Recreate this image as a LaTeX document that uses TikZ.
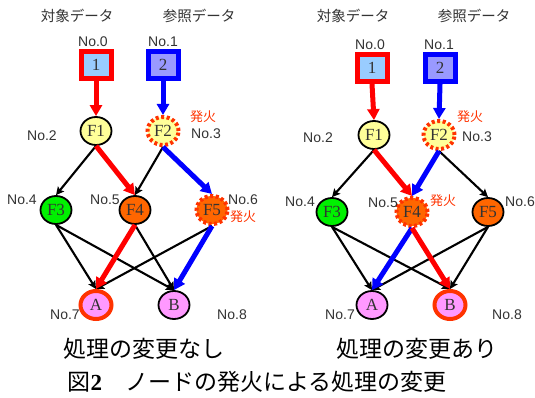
\documentclass[tikz,border=0pt]{standalone}
\usepackage{fontspec}
\usetikzlibrary{shapes.geometric,arrows.meta}
\setmainfont{Liberation Serif}
\newfontfamily\gothic{Noto Sans CJK JP}
\newfontfamily\arial{Liberation Sans}
\definecolor{firecol}{RGB}{255,51,0}
\definecolor{boxblue}{RGB}{153,204,255}
\definecolor{boxviolet}{RGB}{153,153,255}
\definecolor{fyellow}{RGB}{255,255,153}
\definecolor{fgreen}{RGB}{0,240,0}
\definecolor{forange}{RGB}{255,102,0}
\definecolor{fpink}{RGB}{255,153,255}
\definecolor{labelgray}{RGB}{51,51,51}
\tikzset{
  fn/.style={ellipse, draw=black, line width=1.8pt, minimum width=31pt,
    minimum height=28pt, inner sep=0pt, text=labelgray, font=\fontsize{17}{17}\selectfont},
  fired/.style={draw=firecol, dash pattern=on 3pt off 2.5pt, line width=4pt},
  outhot/.style={draw=firecol, line width=4pt},
  inbox/.style={rectangle, line width=5pt, minimum width=30pt,
    minimum height=27pt, inner sep=0pt, text=labelgray, font=\fontsize{17}{17}\selectfont},
  thinarr/.style={-{Stealth[length=8pt,width=8pt,inset=1.5pt]}, line width=2.1pt, black},
  redarr/.style={-{Triangle[length=11pt,width=12pt]}, line width=5pt, red},
  bluearr/.style={-{Triangle[length=11pt,width=12pt]}, line width=5pt, blue},
  nolbl/.style={font=\arial\fontsize{14}{14}\selectfont, text=labelgray, inner sep=0pt},
  firelbl/.style={font=\gothic\fontsize{13}{13}\selectfont, text=firecol, inner sep=0pt},
  headlbl/.style={font=\gothic\fontsize{14.5}{14.5}\selectfont, text=labelgray, inner sep=0pt},
  caplbl/.style={font=\gothic\fontsize{23}{23}\selectfont, text=black, inner sep=0pt}
}
\begin{document}
\begin{tikzpicture}[x=1pt,y=-1pt]
\path[use as bounding box, fill=white] (0,0) rectangle (535,398);

% ---------- left network: no change ----------
\node[headlbl] (lhA) at (77,16) {対象データ};
\node[headlbl] (lhB) at (199,16) {参照データ};
\node[nolbl] (ln0) at (93,42) {No.0};
\node[nolbl] (ln1) at (163,42) {No.1};
\node[inbox, draw=red, fill=boxblue] (lb1) at (96,65) {1};
\node[inbox, draw=blue, fill=boxviolet] (lb2) at (163,65) {2};
\node[fn, fill=fyellow] (lF1) at (96,131) {F1};
\node[fn, fill=fyellow, fired] (lF2) at (163,131) {F2};
\node[nolbl] (ln2) at (42,136) {No.2};
\node[firelbl] (lfire2) at (203,117) {発火};
\node[nolbl] (ln3) at (206,134) {No.3};
\node[fn, fill=fgreen] (lF3) at (56,210) {F3};
\node[fn, fill=forange] (lF4) at (135,210) {F4};
\node[fn, fill=forange, fired] (lF5) at (212,210) {F5};
\node[nolbl] (ln4) at (22,200) {No.4};
\node[nolbl] (ln5) at (105,200) {No.5};
\node[nolbl] (ln6) at (243,200) {No.6};
\node[firelbl] (lfire5) at (243,217) {発火};
\node[fn, fill=fpink, outhot] (lA) at (96,305) {A};
\node[fn, fill=fpink] (lB) at (174,305) {B};
\node[nolbl] (ln7) at (65,315) {No.7};
\node[nolbl] (ln8) at (232,315) {No.8};

\draw[thinarr] (lF1.south) -- (lF3.north);
\draw[thinarr] (lF2.south) -- (lF4.north);
\draw[thinarr] (lF3.south) -- (lA.north);
\draw[thinarr] (lF3.south) -- (lB.north);
\draw[thinarr] (lF4.south) -- (lB.north);
\draw[thinarr] (lF5.south) -- (lA.north);
\draw[redarr] (lb1.south) -- (lF1.north);
\draw[bluearr] (lb2.south) -- (lF2.north);
\draw[redarr] (lF1.south) -- (lF4.north);
\draw[bluearr] (lF2.south) -- (lF5.north);
\draw[redarr] (lF4.south) -- (lA.north);
\draw[bluearr] (lF5.south) -- (lB.north);

% ---------- right network: changed processing ----------
\node[headlbl] (rhA) at (353,16) {対象データ};
\node[headlbl] (rhB) at (474,16) {参照データ};
\node[nolbl] (rn0) at (370,45) {No.0};
\node[nolbl] (rn1) at (439,45) {No.1};
\node[inbox, draw=red, fill=boxblue] (rb1) at (372,68) {1};
\node[inbox, draw=blue, fill=boxviolet] (rb2) at (440,68) {2};
\node[fn, fill=fyellow] (rF1) at (374,135) {F1};
\node[fn, fill=fyellow, fired] (rF2) at (439,135) {F2};
\node[nolbl] (rn2) at (318,138) {No.2};
\node[firelbl] (rfire2) at (470,117) {発火};
\node[nolbl] (rn3) at (477,137) {No.3};
\node[fn, fill=fgreen] (rF3) at (332,212) {F3};
\node[fn, fill=forange, fired] (rF4) at (412,212) {F4};
\node[fn, fill=forange] (rF5) at (488,212) {F5};
\node[nolbl] (rn4) at (300,202) {No.4};
\node[nolbl] (rn5) at (383,203) {No.5};
\node[firelbl] (rfire4) at (443,201) {発火};
\node[nolbl] (rn6) at (520,202) {No.6};
\node[fn, fill=fpink] (rA) at (372,305) {A};
\node[fn, fill=fpink, outhot] (rB) at (450,305) {B};
\node[nolbl] (rn7) at (340,315) {No.7};
\node[nolbl] (rn8) at (507,315) {No.8};

\draw[thinarr] (rF1.south) -- (rF3.north);
\draw[thinarr] (rF2.south) -- (rF5.north);
\draw[thinarr] (rF3.south) -- (rA.north);
\draw[thinarr] (rF3.south) -- (rB.north);
\draw[thinarr] (rF5.south) -- (rA.north);
\draw[thinarr] (rF5.south) -- (rB.north);
\draw[redarr] (rb1.south) -- (rF1.north);
\draw[bluearr] (rb2.south) -- (rF2.north);
\draw[redarr] (rF1.south) -- (rF4.north);
\draw[bluearr] (rF2.south) -- (rF4.north);
\draw[bluearr] (rF4.south) -- (rA.north);
\draw[redarr] (rF4.south) -- (rB.north);

% ---------- captions ----------
\node[caplbl] (capL) at (144,349) {処理の変更なし};
\node[caplbl] (capR) at (417,349) {処理の変更あり};
\node[caplbl] (capFig) at (257,382) {図{\rmfamily\bfseries 2}　ノードの発火による処理の変更};
\end{tikzpicture}
\end{document}
